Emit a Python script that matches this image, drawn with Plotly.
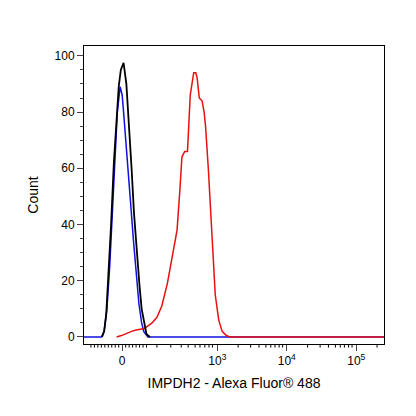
import plotly.graph_objects as go

# x in display units of the biexponential axis (0 -> 0, 10^3 -> 1.37, ...)
red_x = [-0.08,-0.01,0.135,0.2,0.32,0.43,0.5,0.57,0.65,0.72,0.79,0.83,0.86,0.9,0.94,0.98,1.01,1.03,1.06,1.08,1.11,1.15,1.18,1.20,1.24,1.27,1.31,1.34,1.39,1.44,1.5,1.55,3.77]
red_y = [0,0.5,2,2.5,3,5,7,11,19,28,38,52,64,66,66,86,92,94,94,92,85,84,80,75,60,45,28,15,6,2,0.5,0,0]
black_x = [-0.29,-0.26,-0.23,-0.2,-0.16,-0.12,-0.08,-0.05,-0.02,0.02,0.06,0.1,0.135,0.17,0.21,0.25,0.28,0.32,0.35,0.40]
black_y = [0,2,8,20,40,62,80,89,95,97.5,90,75,60,44,30,18,10,4,1,0]
blue_x = [-0.55,-0.3,-0.26,-0.22,-0.18,-0.14,-0.11,-0.07,-0.03,0.0,0.02,0.05,0.09,0.12,0.16,0.2,0.24,0.28,0.31,0.37,3.77]
blue_y = [0,0,2,10,25,45,65,80,89,86,80,71,60,48,35,22,12,5,2,0,0]
tick_pos = [0, 1.37, 2.37, 3.37]
tick_text = ["0", "10<sup>3</sup>", "10<sup>4</sup>", "10<sup>5</sup>"]
minor_pos = [-0.45,-0.4,-0.35,-0.3,-0.25,-0.2,-0.15,-0.1,-0.05,0.05,0.1,0.15,0.2,0.25,0.3,0.35,
             0.5,0.7,0.85,0.95,1.05,1.12,1.19,1.25,1.3,
             1.67,1.85,1.97,2.07,2.14,2.2,2.26,2.31,
             2.67,2.85,2.97,3.07,3.14,3.2,3.26,3.31,3.67]

fig = go.Figure()
fig.add_trace(go.Scatter(x=blue_x, y=blue_y, mode="lines", line=dict(color="#1010e0", width=1.5)))
fig.add_trace(go.Scatter(x=red_x, y=red_y, mode="lines", line=dict(color="#e81010", width=1.5)))
fig.add_trace(go.Scatter(x=black_x, y=black_y, mode="lines", line=dict(color="black", width=1.8)))
for m in minor_pos:
    fig.add_shape(type="line", x0=m, x1=m, y0=-0.012, y1=0, xref="x", yref="paper",
                  line=dict(color="black", width=1))

fig.update_layout(
    width=416, height=416, showlegend=False, plot_bgcolor="white", paper_bgcolor="white",
    margin=dict(l=76, r=40, t=38, b=80),
    font=dict(family="Liberation Sans, Arial", size=12, color="black"),
    xaxis=dict(range=[-0.55, 3.77], tickvals=tick_pos, ticktext=tick_text, ticks="outside", ticklen=6,
               showgrid=False, zeroline=False, showline=True, linecolor="black", mirror=True,
               title=dict(text="IMPDH2 - Alexa Fluor® 488", standoff=10)),
    yaxis=dict(range=[-2.5, 103.5], tickvals=[0,20,40,60,80,100], ticks="outside", ticklen=6,
               minor=dict(dtick=5, ticks="outside", ticklen=3), showgrid=False, zeroline=False,
               showline=True, linecolor="black", mirror=True, title=dict(text="Count", standoff=12)),
)
fig.write_html("out.html")
